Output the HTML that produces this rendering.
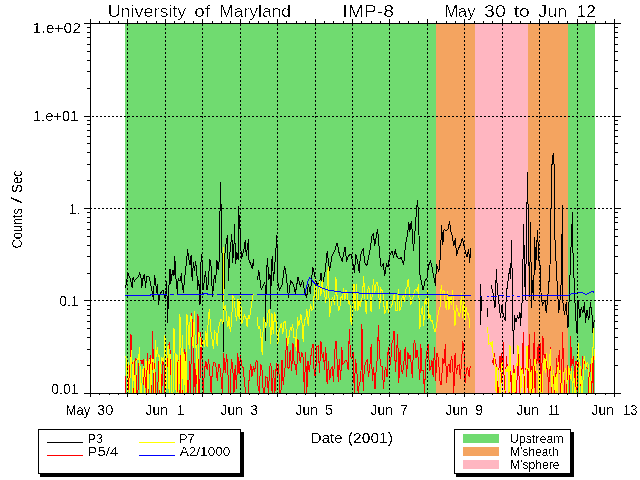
<!DOCTYPE html>
<html lang="en"><head><meta charset="utf-8"><title>University of Maryland IMP-8 May 30 to Jun 12</title>
<style>
html,body{margin:0;padding:0;background:#fff;}
body{width:640px;height:480px;overflow:hidden;}
svg{display:block;}
text{font-family:"Liberation Sans",sans-serif;fill:#000;}
.t{font-size:17.4px;}
.l{font-size:14px;}
.g{font-size:13px;}
</style></head><body>
<svg width="640" height="480" viewBox="0 0 640 480">
<defs><filter id="ct" x="0" y="0" width="640" height="480" filterUnits="userSpaceOnUse" color-interpolation-filters="sRGB"><feColorMatrix type="matrix" values="0 0 0 0 0  0 0 0 0 0  0 0 0 0 0  -0.3333 -0.3333 -0.3333 1 0"/><feComponentTransfer><feFuncA type="discrete" tableValues="0 0 1"/></feComponentTransfer></filter><filter id="cl" x="0" y="0" width="640" height="480" filterUnits="userSpaceOnUse" color-interpolation-filters="sRGB"><feColorMatrix type="matrix" values="0 0 0 0 0  0 0 0 0 0  0 0 0 0 0  -0.3333 -0.3333 -0.3333 1 0"/><feComponentTransfer><feFuncA type="discrete" tableValues="0 0 0 0 0 1 1 1 1"/></feComponentTransfer></filter><filter id="cg" x="0" y="0" width="640" height="480" filterUnits="userSpaceOnUse" color-interpolation-filters="sRGB"><feColorMatrix type="matrix" values="0 0 0 0 0  0 0 0 0 0  0 0 0 0 0  -0.3333 -0.3333 -0.3333 1 0"/><feComponentTransfer><feFuncA type="discrete" tableValues="0 0 0 0 0 1 1 1 1"/></feComponentTransfer></filter><filter id="cr" x="0" y="0" width="640" height="480" filterUnits="userSpaceOnUse" color-interpolation-filters="sRGB"><feColorMatrix type="matrix" values="0 0 0 0 0  0 0 0 0 0  0 0 0 0 0  -0.3333 -0.3333 -0.3333 1 0"/><feComponentTransfer><feFuncA type="discrete" tableValues="0 1"/></feComponentTransfer></filter></defs>
<rect x="0" y="0" width="640" height="480" fill="#fff"/>
<g shape-rendering="crispEdges">
<rect x="125" y="24" width="311" height="369" fill="#70DB70"/>
<rect x="436" y="24" width="39" height="369" fill="#F4A460"/>
<rect x="475" y="24" width="53" height="369" fill="#FFB6C1"/>
<rect x="528" y="24" width="40" height="369" fill="#F4A460"/>
<rect x="568" y="24" width="27" height="369" fill="#70DB70"/>
</g>
<g fill="none" stroke-width="1" stroke-linejoin="miter" shape-rendering="crispEdges">
<g stroke="#000">
<polyline points="125.5,288.0 126.9,280.0 127.8,272.5 129.0,276.0 130.0,278.0 132.2,287.5 133.1,277.5 134.4,281.0 136.2,278.8 138.1,277.0 139.8,273.0 141.0,277.5 141.9,288.0 142.5,280.0 144.4,274.4 145.6,287.5 146.5,277.0 147.8,276.0 149.4,277.5 150.6,283.8 151.9,290.0 153.5,300.0 154.4,275.0 155.6,281.0 156.5,292.5 157.5,284.4 158.5,305.0 159.8,296.0 161.2,292.0 163.1,290.0 164.4,296.0 165.6,298.8 166.5,281.0 167.2,301.0 167.8,322.5 168.1,302.5 169.4,277.5 170.0,268.8 170.6,283.8 171.9,275.0 173.1,270.0 174.0,276.0 174.8,256.0 175.5,273.4 176.5,285.0 177.5,293.8 178.1,278.8 180.0,281.0 181.5,273.0 182.2,286.0 183.5,292.5 184.4,280.0 185.6,270.0 186.9,258.0 187.5,249.0 188.8,259.4 190.0,265.0 191.1,254.7 192.2,281.0 193.4,262.5 194.5,271.0 195.6,261.0 196.9,272.5 197.5,290.0 198.8,280.0 200.0,305.0 201.2,253.8 202.2,263.8 203.1,290.0 204.4,280.0 205.6,271.0 206.9,290.0 208.1,285.0 209.8,258.8 211.2,267.5 212.5,297.0 214.4,275.0 215.6,282.5 216.9,260.0 218.1,270.0 219.4,258.8 220.4,182.0 221.2,210.0 221.5,248.8 222.5,257.5 223.6,352.0 224.2,262.0 225.6,246.0 227.5,235.0 228.5,281.0 229.4,258.8 230.6,246.0 231.9,234.4 232.5,262.5 233.8,252.5 234.5,224.0 235.6,263.8 236.9,252.5 238.1,260.0 238.6,206.0 239.5,226.0 240.6,232.5 241.2,258.8 242.5,255.0 243.8,250.0 245.4,240.0 246.2,256.0 248.5,239.4 249.0,260.0 250.6,263.8 252.2,268.8 253.5,259.4 253.8,266.0"/>
<polyline points="257.5,280.0 258.8,270.0 260.0,280.0 261.2,290.0 263.1,286.0 265.0,282.5 265.6,341.0 266.2,276.0 267.5,258.0 268.8,280.0 270.0,273.8 270.6,309.0 271.3,270.0 272.2,256.0 273.5,280.6 275.2,260.0 276.9,234.7 277.5,280.6 279.4,290.0 282.2,284.4 284.6,265.6 286.5,277.0 288.4,297.5 290.6,280.6 293.4,284.4 295.3,293.8 298.1,277.0 300.4,286.0 302.8,280.6 304.7,292.0 306.6,297.5 308.4,284.4 310.3,293.8 312.8,266.6 315.0,277.0 316.9,284.4 319.7,282.5 321.0,273.0 322.5,284.4 325.3,271.0 327.2,250.6 329.6,271.0 331.9,256.0 334.7,250.6 337.1,242.8 339.4,254.4 342.2,261.0 345.0,246.8 346.6,260.6 348.9,255.2 351.2,254.4 353.6,267.0 354.4,273.0 355.9,254.4 357.5,260.6 359.4,273.0 360.3,256.0 361.9,251.0 363.4,249.0 364.5,262.0 366.9,266.0 368.4,257.5 370.0,250.5 371.9,236.4 373.4,234.0 374.7,245.8 376.2,237.2 377.5,229.4 378.6,240.3 379.7,256.0 381.2,267.0 383.3,263.8 384.8,276.0 386.4,263.8 388.0,267.0 389.5,256.0 391.9,251.0 393.4,256.7 395.3,250.5 396.6,256.0 398.9,259.0 401.2,257.5 403.6,265.3 405.2,248.0 406.2,240.3 407.5,235.6 408.8,222.0 409.8,231.7 411.4,220.6 412.5,235.6 413.4,251.0 414.5,238.8 416.5,210.0 417.5,200.0 418.5,213.8 419.2,243.4 420.0,274.7 421.6,282.5 423.1,290.3 425.0,281.0 427.0,277.8 428.6,265.3 430.6,261.4 431.7,265.3 433.3,274.7 435.6,285.6 436.4,263.8 438.8,271.6 440.3,257.5 441.6,225.0 442.8,244.7 444.1,229.0 445.9,230.6 447.8,229.8 449.6,220.6 450.6,230.6 452.2,235.3 453.8,246.0 455.3,238.4 456.6,255.6 458.4,248.6 460.8,244.0 462.3,237.7 463.9,246.0 465.5,251.7 467.0,257.2 468.6,248.6 469.7,262.7 470.6,247.8"/>
<polyline points="480.5,284.0 480.5,325.0"/>
<polyline points="481.5,296.0 481.5,311.0"/>
<polyline points="487.5,308.0 487.5,317.0"/>
<polyline points="491.2,285.0 493.1,293.8 495.0,308.0 496.4,269.0 497.2,287.5 498.8,302.5 500.6,317.5 501.9,305.0 502.8,312.5 503.8,316.0 505.2,321.0 506.2,297.5 507.1,287.5 508.1,280.0 509.8,268.0 510.6,279.0 511.6,240.0 512.5,300.0 513.4,353.8 514.4,315.0 516.0,322.0 517.5,316.0 518.8,318.8 520.0,312.5 520.6,325.6 521.5,310.0 522.5,296.0 523.5,224.4 524.4,260.0 525.3,300.0 526.0,265.0 527.5,172.0 528.6,240.0 529.5,297.0 530.6,222.0 531.5,307.5 532.5,280.0 533.5,300.0 534.8,237.0 535.5,270.0 536.2,257.0 537.5,230.0 538.8,260.0 540.0,265.0 541.2,297.5 542.5,305.0 545.0,300.0 546.2,312.5 547.5,300.0 548.8,285.0 550.0,265.0 551.4,187.0 552.2,158.0 553.4,153.0 554.5,173.0 555.0,240.0 556.2,265.0 557.5,290.0 558.8,312.5 560.0,300.0 561.2,282.5 562.5,205.0 563.0,302.5 564.5,315.0 566.2,302.5 567.0,315.0 568.0,327.5 569.5,290.0 570.8,252.5 572.5,212.0 573.0,252.5 574.5,290.0 575.5,315.0 577.0,332.5 578.0,300.0 580.0,317.5 581.2,307.5 583.0,312.5 584.5,302.5 585.5,322.5 587.0,310.0 588.8,320.0 590.5,302.5 592.0,315.0 593.0,332.5 594.2,320.0"/>
</g>
<g stroke="#FF0000">
<polyline points="125.5,393.0 126.4,363.1 127.4,367.3 128.3,365.2 129.1,393.0 130.1,362.4 131.0,334.4 132.1,364.7 133.2,393.0 134.1,393.0 135.0,361.4 136.0,358.3 137.0,393.0 137.9,393.0 139.0,363.5 139.9,361.2 141.0,360.3 142.0,364.3 143.1,359.5 144.3,393.0 145.2,361.5 146.2,393.0 147.3,353.1 148.4,393.0 149.5,360.4 150.6,355.4 151.6,393.0 152.7,331.0 153.8,393.0 154.7,362.9 155.7,393.0 156.6,393.0 157.7,393.0 158.6,361.5 159.7,393.0 160.7,367.1 161.8,393.0 162.8,359.2 163.9,360.8 164.8,393.0 165.7,360.9 166.6,361.6 167.5,367.2 168.6,347.3 169.4,341.6 170.5,355.7 171.5,393.0 172.5,393.0 173.4,393.0 174.3,393.0 175.2,393.0 176.1,393.0 177.0,393.0 178.1,360.0 179.1,393.0 180.0,393.0 181.1,352.1 182.1,393.0 183.0,393.0 183.9,359.3 184.8,349.3 185.7,361.0 186.5,368.2 187.6,393.0 188.6,393.0 189.6,361.4 190.7,393.0 191.6,313.2 192.8,329.6 193.8,393.0 194.8,362.8 195.8,393.0 196.8,350.2 198.0,314.4 198.9,393.0 199.8,393.0 200.7,331.8 201.8,353.3 203.2,393.0 204.5,369.5 205.9,361.5 207.2,370.0 208.6,359.3 210.0,376.3 211.1,393.0 212.3,371.2 213.6,362.5 214.9,362.8 216.0,366.9 217.3,380.5 218.7,363.6 219.8,366.4 221.1,377.3 222.3,393.0 223.7,353.4 225.2,372.8 226.6,354.4 227.6,365.8 228.8,393.0 230.1,393.0 231.4,358.6 232.6,364.9 234.0,393.0 235.2,365.1 236.5,388.9 237.8,353.1 239.1,374.3 240.4,355.1 241.8,365.7 243.2,367.6 244.6,383.8 245.8,393.0 247.0,393.0 248.1,393.0 249.5,373.9 250.8,364.2 251.9,376.6 253.3,366.6 254.6,371.9 255.8,362.1 257.0,360.3 258.0,385.7 259.3,393.0 260.5,363.9 261.9,367.9 263.3,393.0 264.5,393.0 265.8,376.8 267.2,377.3 268.4,393.0 269.8,366.5 270.9,363.2 272.1,393.0 273.5,369.7 274.9,393.0 276.3,363.3 277.5,376.5 278.6,363.8 279.8,393.0 280.9,393.0 282.0,359.6 283.2,385.3 284.3,374.4 285.4,365.3 286.7,334.1 287.8,367.3 289.0,368.3 290.2,349.8 291.7,371.1 293.0,343.3 294.2,364.4 295.5,364.6 296.6,375.3 297.9,338.9 299.1,353.6 300.3,362.9 301.7,351.7 303.2,358.2 304.4,393.0 305.6,352.3 306.8,393.0 308.0,360.8 309.2,372.0 310.3,362.6 311.6,349.7 313.0,343.8 314.2,373.3 315.5,377.8 316.9,346.3 318.2,345.8 319.5,373.0 320.9,340.8 322.3,357.7 323.3,352.2 324.5,369.5 325.8,346.7 327.1,384.2 328.5,361.5 329.7,380.4 330.9,369.6 332.1,366.9 333.5,381.5 334.7,352.0 336.0,340.7 337.1,360.5 338.3,382.4 339.3,358.7 340.7,380.3 341.8,346.8 342.9,364.2 344.1,363.2 345.3,360.0 346.7,360.0 348.1,369.9 349.4,329.2 350.5,356.2 351.8,358.3 353.2,352.0 354.3,393.0 355.5,358.7 356.7,367.8 358.1,393.0 359.4,382.6 360.8,381.3 361.9,323.7 363.2,390.7 364.4,366.7 365.8,362.8 367.2,359.5 368.4,376.5 369.8,368.0 371.2,344.0 372.4,381.1 373.7,367.5 375.0,389.3 376.1,370.0 377.3,358.6 378.4,325.5 379.6,354.8 380.7,365.8 382.1,366.3 383.6,388.8 384.7,371.0 385.8,367.4 387.0,377.4 388.2,346.9 389.4,358.6 390.6,365.0 391.7,343.2 392.8,342.2 394.0,330.6 395.4,371.8 396.5,354.0 397.7,334.2 398.8,382.8 400.1,350.2 401.3,369.9 402.6,374.0 403.9,362.3 405.2,346.7 406.6,377.4 407.8,352.0 408.9,359.0 410.0,355.0 411.3,363.9 412.3,378.4 413.6,344.4 414.8,339.7 416.0,357.9 417.0,350.3 418.4,360.1 419.8,380.3 420.8,343.7 422.0,370.4 423.3,370.6 424.5,393.0 425.7,361.7 427.1,350.2 428.2,344.3 429.6,370.6 430.8,368.1 431.9,359.8 433.1,376.7 434.6,346.9 435.7,380.8 436.8,352.6 438.0,357.1 439.1,367.9 440.3,385.0 441.4,384.8 442.8,357.8 444.0,363.5 445.4,343.9 446.5,383.2 447.9,365.9 449.0,363.7 450.1,372.5 451.3,356.2 452.6,361.2 453.8,393.0 455.1,352.9 456.4,373.7 457.6,366.0 459.1,364.7 460.3,378.8 461.4,363.5 462.8,341.4 464.0,351.1 465.1,383.3 466.4,369.4 467.7,367.9 469.1,377.0 470.2,366.2"/>
<polyline points="492.5,359.7 493.4,364.7 494.5,352.7 495.4,363.1 496.4,364.9 497.5,393.0 498.4,393.0 499.3,355.9 500.2,371.6 501.2,353.2 502.3,393.0 503.3,342.3 504.4,393.0 505.4,393.0 506.3,355.7 507.4,367.8 508.5,367.7 509.6,393.0 510.7,364.6 511.6,393.0 512.5,393.0 513.6,364.8 514.4,373.2 515.5,393.0 516.4,393.0 517.5,369.3 518.5,353.7 519.4,393.0 520.4,368.5 521.4,370.5 522.4,367.2 523.3,331.6 524.3,393.0 525.4,393.0 526.2,360.3 527.3,370.5 528.2,393.0 529.2,334.3 530.1,361.5 531.1,393.0 532.0,365.8 533.2,393.0 534.2,331.6 535.1,393.0 536.2,358.8 537.1,361.1 538.2,343.6 539.1,364.5 540.1,343.3 541.0,393.0 541.9,366.9 542.9,336.1 543.7,348.2 544.6,366.2 545.6,354.2 546.6,369.0 547.6,366.2 548.6,393.0 549.6,365.3 550.5,346.8 551.5,393.0 552.5,393.0 553.4,370.7 554.4,393.0 555.4,393.0 556.5,358.0 557.4,369.8 558.3,366.0 559.4,349.6 560.5,393.0 561.7,374.4 562.6,331.6 563.5,366.2 564.5,393.0 565.7,393.0 566.7,393.0 567.7,364.7 568.7,367.7 569.6,393.0 570.7,336.4 571.6,366.3 572.6,361.8 573.7,355.9 574.8,393.0 576.0,361.0 577.1,393.0 578.2,361.7 579.3,368.7 580.2,367.3 581.3,393.0 582.4,355.7 583.4,368.8 584.3,360.1 585.3,366.0 586.2,367.7 587.1,368.0 588.0,368.6 589.0,393.0 590.0,371.9 590.9,364.1 591.8,393.0 592.8,346.7 593.8,393.0"/>
</g>
<g stroke="#FFFF00">
<polyline points="125.5,355.6 126.5,359.4 127.5,393.0 128.5,362.2 129.5,393.0 130.6,361.2 131.7,350.4 132.7,393.0 133.6,360.2 134.5,393.0 135.4,393.0 136.4,363.3 137.4,358.3 138.5,359.4 139.6,347.3 140.6,393.0 141.5,393.0 142.6,371.3 143.7,366.5 144.5,393.0 145.6,359.3 146.8,364.5 147.9,393.0 148.7,362.5 149.9,359.1 150.8,393.0 151.7,358.1 152.7,362.2 153.6,358.8 154.6,393.0 155.5,339.7 156.4,357.2 157.4,347.0 158.3,357.0 159.2,354.9 160.1,393.0 161.0,364.3 161.9,357.2 163.1,361.6 164.1,356.3 165.0,335.5 165.9,393.0 167.0,355.3 168.1,345.0 169.1,393.0 170.0,353.7 171.0,359.2 172.0,393.0 173.0,393.0 174.0,328.2 175.0,352.8 176.1,393.0 177.0,354.9 177.9,356.1 178.9,393.0 179.9,314.5 180.9,341.1 181.8,393.0 182.7,335.2 183.8,393.0 184.8,353.7 186.0,393.0 187.0,314.5 188.1,325.7 189.2,348.9 190.2,315.9 191.2,316.1 192.2,341.4 193.3,347.7 194.3,311.2 195.4,347.6 196.4,345.8 197.4,393.0 198.5,333.0 199.6,333.3 201.0,347.0 202.1,345.0 203.2,339.9 204.5,346.7 205.8,330.6 207.1,347.4 208.3,317.9 209.4,309.2 210.8,330.9 212.2,340.4 213.4,348.5 214.6,331.2 216.0,332.9 217.2,345.5 218.3,329.2 219.6,323.8 220.7,319.6 221.8,319.8 222.9,323.8 224.1,309.4 225.5,304.8 226.7,318.6 227.9,327.2 229.0,316.4 230.3,332.4 231.6,322.4 232.7,295.4 234.1,298.5 235.5,313.5 236.7,321.2 238.0,299.2 239.1,318.5 240.4,293.3 241.8,323.8 243.2,318.9 244.6,314.9 245.8,317.1 247.2,326.9 248.3,315.7 249.4,318.0 250.5,311.9 251.8,302.8 253.1,294.0"/>
<polyline points="257.0,316.7 258.3,328.1 259.6,326.5 260.8,334.3 262.2,355.1 263.5,318.3 264.6,319.7 265.7,326.5 266.9,324.4 268.2,311.3 269.3,309.9 270.7,343.5 271.9,312.8 273.3,333.7 274.5,313.3 275.6,315.4 276.7,331.6 277.9,343.7 279.2,330.1 280.4,326.4 281.5,322.9 282.8,334.4 283.9,322.3 285.1,321.6 286.4,332.6 287.8,345.7 289.0,336.6 290.4,328.1 291.5,330.0 292.6,324.1 293.9,337.4 295.2,337.5 296.3,350.8 297.4,317.1 298.8,325.9 299.8,321.8 300.9,314.3 302.0,323.1 303.2,341.6 304.3,319.9 305.7,319.3 306.9,309.0 308.2,326.1 309.5,312.0 310.8,304.5 311.9,310.1 313.0,309.6 314.4,291.5 315.6,278.7 316.9,299.0 318.3,300.1 319.5,281.1 320.9,295.7 322.2,279.6 323.2,291.2 324.4,291.7 325.7,302.9 326.9,288.4 328.2,266.9 329.5,316.8 330.9,306.6 332.2,297.7 333.4,299.4 334.5,304.7 335.9,277.0 337.2,298.6 338.5,310.8 339.8,307.4 341.2,295.7 342.5,299.6 343.6,288.3 344.9,300.0 346.0,289.8 347.4,294.9 348.4,303.1 349.8,301.1 351.2,325.4 352.6,311.6 354.0,283.9 355.1,310.6 356.6,284.1 357.9,310.6 359.0,300.1 360.1,306.5 361.2,300.5 362.4,297.0 363.6,276.5 365.0,299.4 366.2,314.1 367.5,290.9 368.6,287.4 369.9,290.7 371.1,312.0 372.5,289.2 373.6,279.5 374.7,293.8 375.7,284.6 377.0,282.3 378.3,286.5 379.7,308.5 380.8,288.3 381.9,290.2 383.1,293.7 384.5,313.3 385.8,312.5 387.0,299.7 388.4,312.8 389.6,308.2 390.8,307.3 392.1,304.2 393.3,298.5 394.4,293.8 395.7,310.7 397.0,311.0 398.4,289.1 399.6,310.5 400.8,308.9 402.0,298.0 403.2,295.9 404.5,302.0 405.7,289.4 407.1,286.7 408.3,278.6 409.5,292.4 410.8,304.6 412.2,298.2 413.3,296.3 414.6,290.5 415.9,289.5 417.3,290.9 418.6,283.8 419.9,328.8 421.2,312.2 422.4,305.9 423.7,325.7 425.1,299.0 426.4,305.4 427.7,290.4 428.8,318.6 429.9,314.1 431.1,321.1 432.3,320.8 433.6,326.9 434.8,332.3 436.2,326.9 437.4,319.2 438.7,310.1 439.9,309.1 441.2,285.3 442.5,293.7 443.9,290.0 445.3,303.6 446.4,310.2 447.6,291.0 448.9,310.1 450.0,297.3 451.3,304.6 452.6,289.7 453.7,304.3 455.0,325.8 456.4,305.2 457.7,311.3 459.1,316.2 460.3,312.4 461.4,292.7 462.7,317.7 463.8,294.8 464.9,321.0 466.1,307.5 467.4,314.1 468.6,313.3 470.0,328.4"/>
<polyline points="487.5,327.5 488.9,344.0 490.2,342.5 491.4,345.6 492.2,340.7 493.1,353.9 494.1,357.2 495.1,367.1 496.1,393.0 497.0,367.0 498.2,370.6 499.3,393.0 500.1,393.0 501.2,369.1 502.2,362.1 503.0,393.0 503.9,393.0 504.9,393.0 506.0,368.6 507.0,371.8 508.0,365.7 509.0,393.0 510.0,345.3 511.0,370.9 512.0,371.0 513.0,393.0 514.0,372.8 515.0,393.0 516.1,363.5 517.1,366.1 518.0,345.5 519.0,353.5 519.9,361.7 520.8,393.0 521.7,370.8 522.8,369.1 523.8,393.0 525.0,393.0 526.1,368.2 527.0,345.8 528.1,370.4 529.0,368.4 530.1,393.0 531.1,369.8 532.2,393.0 533.0,393.0 534.2,361.2 535.1,358.6 536.1,372.2 537.0,371.5 537.9,370.4 538.9,393.0 539.9,371.3 540.9,393.0 542.0,393.0 543.1,369.1 544.2,358.0 545.2,372.8 546.4,353.0 547.4,366.3 548.4,369.7 549.4,368.5 550.2,349.3 551.3,372.4 552.3,393.0 553.2,369.9 554.2,376.8 555.2,393.0 556.2,374.0 557.1,393.0 558.2,361.6 559.3,373.3 560.4,370.6 561.5,393.0 562.6,393.0 563.6,372.7 564.5,372.2 565.6,367.7 566.6,373.7 567.5,393.0 568.6,365.8 569.7,372.9 570.6,378.5 571.5,368.5 572.5,393.0 573.7,370.7 574.7,393.0 575.8,393.0 576.7,368.0 577.8,358.0 578.7,343.0 579.7,393.0 580.6,366.1 581.7,393.0 582.6,393.0 583.6,361.7 584.7,356.0 585.6,369.6 586.5,364.0 587.7,362.4 588.7,367.7 589.6,393.0 590.7,393.0 591.6,358.5 592.6,362.6 593.5,327.7 594.3,360.4"/>
<polyline points="223.5,247.0 223.5,309.0"/>
</g>
<g stroke="#0000FF">
<polyline points="125.0,295.5 150.0,295.5 151.0,294.5 167.0,294.5"/>
<polyline points="170.0,294.5 174.0,294.5"/>
<polyline points="177.0,294.5 203.0,294.5 204.0,293.5 207.0,293.5 208.0,294.5 214.0,294.5"/>
<polyline points="217.0,294.5 224.0,294.5"/>
<polyline points="228.0,294.5 253.0,294.5"/>
<polyline points="257.0,294.5 304.5,294.5 306.0,289.0 308.0,281.0 309.8,277.5 311.0,279.0 313.0,281.5 317.0,285.5 322.0,288.0 330.0,290.5 345.0,292.5 380.0,293.8 440.0,294.5 455.0,295.5 470.5,295.5"/>
<polyline points="480.0,296.5 481.0,296.5"/>
<polyline points="487.0,296.5 489.0,296.5"/>
<polyline points="491.0,296.5 497.0,296.5"/>
<polyline points="499.0,295.5 504.0,295.5"/>
<polyline points="506.0,296.5 510.0,296.5"/>
<polyline points="512.0,295.5 514.0,295.5"/>
<polyline points="517.0,296.5 520.0,296.5"/>
<polyline points="522.0,295.5 560.0,295.5 568.0,295.5 572.5,293.5 582.5,292.5 585.6,294.5 588.0,293.5 592.5,291.5 594.5,292.5"/>
</g>
</g>
<g stroke="#000" stroke-width="1" fill="none" shape-rendering="crispEdges" stroke-dasharray="2 2">
<line x1="127.5" y1="24" x2="127.5" y2="393"/>
<line x1="165.5" y1="24" x2="165.5" y2="393"/>
<line x1="202.5" y1="24" x2="202.5" y2="393"/>
<line x1="240.5" y1="24" x2="240.5" y2="393"/>
<line x1="277.5" y1="24" x2="277.5" y2="393"/>
<line x1="315.5" y1="24" x2="315.5" y2="393"/>
<line x1="352.5" y1="24" x2="352.5" y2="393"/>
<line x1="389.5" y1="24" x2="389.5" y2="393"/>
<line x1="427.5" y1="24" x2="427.5" y2="393"/>
<line x1="464.5" y1="24" x2="464.5" y2="393"/>
<line x1="502.5" y1="24" x2="502.5" y2="393"/>
<line x1="539.5" y1="24" x2="539.5" y2="393"/>
<line x1="577.5" y1="24" x2="577.5" y2="393"/>
<line x1="92" y1="116.5" x2="614" y2="116.5"/>
<line x1="90" y1="208.5" x2="614" y2="208.5"/>
<line x1="90" y1="300.5" x2="614" y2="300.5"/>
</g>
<g stroke="#000" stroke-width="1" fill="none" shape-rendering="crispEdges">
<rect x="90.5" y="23.5" width="524" height="370"/>
<path d="M90.5 19 V23 M90.5 394 V397 M99.5 21 V23 M99.5 394 V395 M109.5 21 V23 M109.5 394 V395 M118.5 21 V23 M118.5 394 V395 M127.5 19 V23 M127.5 394 V397 M137.5 21 V23 M137.5 394 V395 M146.5 21 V23 M146.5 394 V395 M156.5 21 V23 M156.5 394 V395 M165.5 19 V23 M165.5 394 V397 M174.5 21 V23 M174.5 394 V395 M184.5 21 V23 M184.5 394 V395 M193.5 21 V23 M193.5 394 V395 M202.5 19 V23 M202.5 394 V397 M212.5 21 V23 M212.5 394 V395 M221.5 21 V23 M221.5 394 V395 M230.5 21 V23 M230.5 394 V395 M240.5 19 V23 M240.5 394 V397 M249.5 21 V23 M249.5 394 V395 M258.5 21 V23 M258.5 394 V395 M268.5 21 V23 M268.5 394 V395 M277.5 19 V23 M277.5 394 V397 M286.5 21 V23 M286.5 394 V395 M296.5 21 V23 M296.5 394 V395 M305.5 21 V23 M305.5 394 V395 M315.5 19 V23 M315.5 394 V397 M324.5 21 V23 M324.5 394 V395 M333.5 21 V23 M333.5 394 V395 M343.5 21 V23 M343.5 394 V395 M352.5 19 V23 M352.5 394 V397 M361.5 21 V23 M361.5 394 V395 M371.5 21 V23 M371.5 394 V395 M380.5 21 V23 M380.5 394 V395 M389.5 19 V23 M389.5 394 V397 M399.5 21 V23 M399.5 394 V395 M408.5 21 V23 M408.5 394 V395 M418.5 21 V23 M418.5 394 V395 M427.5 19 V23 M427.5 394 V397 M436.5 21 V23 M436.5 394 V395 M446.5 21 V23 M446.5 394 V395 M455.5 21 V23 M455.5 394 V395 M464.5 19 V23 M464.5 394 V397 M474.5 21 V23 M474.5 394 V395 M483.5 21 V23 M483.5 394 V395 M492.5 21 V23 M492.5 394 V395 M502.5 19 V23 M502.5 394 V397 M511.5 21 V23 M511.5 394 V395 M520.5 21 V23 M520.5 394 V395 M530.5 21 V23 M530.5 394 V395 M539.5 19 V23 M539.5 394 V397 M548.5 21 V23 M548.5 394 V395 M558.5 21 V23 M558.5 394 V395 M567.5 21 V23 M567.5 394 V395 M577.5 19 V23 M577.5 394 V397 M586.5 21 V23 M586.5 394 V395 M595.5 21 V23 M595.5 394 V395 M605.5 21 V23 M605.5 394 V395 M614.5 19 V23 M614.5 394 V397 M84 23.5 H90 M615 23.5 H621 M87 88.5 H90 M615 88.5 H618 M87 71.5 H90 M615 71.5 H618 M87 60.5 H90 M615 60.5 H618 M87 51.5 H90 M615 51.5 H618 M87 44.5 H90 M615 44.5 H618 M87 37.5 H90 M615 37.5 H618 M87 32.5 H90 M615 32.5 H618 M87 27.5 H90 M615 27.5 H618 M84 116.5 H90 M615 116.5 H621 M87 180.5 H90 M615 180.5 H618 M87 164.5 H90 M615 164.5 H618 M87 152.5 H90 M615 152.5 H618 M87 143.5 H90 M615 143.5 H618 M87 136.5 H90 M615 136.5 H618 M87 130.5 H90 M615 130.5 H618 M87 124.5 H90 M615 124.5 H618 M87 120.5 H90 M615 120.5 H618 M84 208.5 H90 M615 208.5 H621 M87 273.5 H90 M615 273.5 H618 M87 256.5 H90 M615 256.5 H618 M87 245.5 H90 M615 245.5 H618 M87 236.5 H90 M615 236.5 H618 M87 229.5 H90 M615 229.5 H618 M87 222.5 H90 M615 222.5 H618 M87 217.5 H90 M615 217.5 H618 M87 212.5 H90 M615 212.5 H618 M84 300.5 H90 M615 300.5 H621 M87 365.5 H90 M615 365.5 H618 M87 349.5 H90 M615 349.5 H618 M87 337.5 H90 M615 337.5 H618 M87 328.5 H90 M615 328.5 H618 M87 321.5 H90 M615 321.5 H618 M87 315.5 H90 M615 315.5 H618 M87 309.5 H90 M615 309.5 H618 M87 305.5 H90 M615 305.5 H618 M84 393.5 H90 M615 393.5 H621"/>
</g>
<g shape-rendering="crispEdges">
<rect x="40" y="432" width="204" height="45" fill="#000"/>
<rect x="38.5" y="429.5" width="202" height="44" fill="#fff" stroke="#000" stroke-width="1"/>
</g>
<g stroke-width="1" shape-rendering="crispEdges">
<line x1="47" y1="442.5" x2="83" y2="442.5" stroke="#000"/>
<line x1="47" y1="455.5" x2="83" y2="455.5" stroke="#FF0000"/>
<line x1="139" y1="442.5" x2="175" y2="442.5" stroke="#FFFF00"/>
<line x1="139" y1="455.5" x2="175" y2="455.5" stroke="#0000FF"/>
</g>
<g shape-rendering="crispEdges">
<rect x="456" y="432" width="118" height="45" fill="#000"/>
<rect x="454.5" y="429.5" width="116" height="44" fill="#fff" stroke="#000" stroke-width="1"/>
</g>
<g shape-rendering="crispEdges">
<rect x="463" y="434" width="36" height="9" fill="#70DB70"/>
<rect x="463" y="447" width="36" height="9" fill="#F4A460"/>
<rect x="463" y="460" width="36" height="9" fill="#FFB6C1"/>
</g>
<g filter="url(#ct)">
<text id="t0" class="t" x="107.66" y="17.0" textLength="78.65" lengthAdjust="spacingAndGlyphs">University</text>
<text id="t1" class="t" x="194.16" y="17.0" textLength="15.78" lengthAdjust="spacingAndGlyphs">of</text>
<text id="t2" class="t" x="219.38" y="17.0" textLength="71.56" lengthAdjust="spacingAndGlyphs">Maryland</text>
<text id="t3" class="t" x="342.28" y="17.0" textLength="51.70" lengthAdjust="spacingAndGlyphs">IMP-8</text>
<text id="t4" class="t" x="444.55" y="17.0" textLength="30.71" lengthAdjust="spacingAndGlyphs">May</text>
<text id="t5" class="t" x="483.94" y="17.0" textLength="21.95" lengthAdjust="spacingAndGlyphs">30</text>
<text id="t6" class="t" x="513.67" y="17.0" textLength="15.98" lengthAdjust="spacingAndGlyphs">to</text>
<text id="t7" class="t" x="538.35" y="17.0" textLength="28.78" lengthAdjust="spacingAndGlyphs">Jun</text>
<text id="t8" class="t" x="576.67" y="17.0" textLength="19.26" lengthAdjust="spacingAndGlyphs">12</text>
</g>
<g filter="url(#cl)">
<text id="t9" class="l" x="32.57" y="33.0" textLength="48.36" lengthAdjust="spacingAndGlyphs">1.e+02</text>
<text id="t10" class="l" x="32.91" y="121.0" textLength="45.56" lengthAdjust="spacingAndGlyphs">1.e+01</text>
<text id="t11" class="l" x="69.10" y="214.0" textLength="11.05" lengthAdjust="spacingAndGlyphs">1.</text>
<text id="t12" class="l" x="59.22" y="306.0" textLength="19.32" lengthAdjust="spacingAndGlyphs">0.1</text>
<text id="t13" class="l" x="51.20" y="394.0" textLength="27.31" lengthAdjust="spacingAndGlyphs">0.01</text>
<text id="t14" class="l" x="310.89" y="443.0" textLength="31.70" lengthAdjust="spacingAndGlyphs">Date</text>
<text id="t15" class="l" x="347.86" y="443.0" textLength="45.05" lengthAdjust="spacingAndGlyphs">(2001)</text>
<text id="t16" class="l" x="65.79" y="415.0" textLength="24.35" lengthAdjust="spacingAndGlyphs">May</text>
<text id="t17" class="l" x="97.14" y="415.0" textLength="16.34" lengthAdjust="spacingAndGlyphs">30</text>
<text id="t18" class="l" x="145.56" y="415.0" textLength="22.36" lengthAdjust="spacingAndGlyphs">Jun</text>
<text id="t19" class="l" x="176.73" y="415.0">1</text>
<text id="t20" class="l" x="220.56" y="415.0" textLength="22.36" lengthAdjust="spacingAndGlyphs">Jun</text>
<text id="t21" class="l" x="250.13" y="415.0">3</text>
<text id="t22" class="l" x="295.56" y="415.0" textLength="22.36" lengthAdjust="spacingAndGlyphs">Jun</text>
<text id="t23" class="l" x="324.92" y="415.0">5</text>
<text id="t24" class="l" x="370.56" y="415.0" textLength="22.36" lengthAdjust="spacingAndGlyphs">Jun</text>
<text id="t25" class="l" x="400.09" y="415.0">7</text>
<text id="t26" class="l" x="445.56" y="415.0" textLength="22.36" lengthAdjust="spacingAndGlyphs">Jun</text>
<text id="t27" class="l" x="475.26" y="415.0">9</text>
<text id="t28" class="l" x="516.56" y="415.0" textLength="22.36" lengthAdjust="spacingAndGlyphs">Jun</text>
<text id="t29" class="l" x="548.14" y="415.0" textLength="11.30" lengthAdjust="spacingAndGlyphs">11</text>
<text id="t30" class="l" x="591.56" y="415.0" textLength="22.36" lengthAdjust="spacingAndGlyphs">Jun</text>
<text id="t31" class="l" x="623.12" y="415.0" textLength="14.51" lengthAdjust="spacingAndGlyphs">13</text>
</g>
<g filter="url(#cr)">
<text class="l" transform="translate(22,248) rotate(-90)"><tspan x="-0.5" textLength="40.5" lengthAdjust="spacingAndGlyphs">Counts</tspan><tspan x="44.5" textLength="6.5" lengthAdjust="spacingAndGlyphs">/</tspan><tspan x="55" textLength="23" lengthAdjust="spacingAndGlyphs">Sec</tspan></text>
</g>
<g filter="url(#cg)">
<text id="t32" class="g" x="87.79" y="443.0" textLength="14.93" lengthAdjust="spacingAndGlyphs">P3</text>
<text id="t33" class="g" x="87.64" y="456.0" textLength="30.64" lengthAdjust="spacingAndGlyphs">P5/4</text>
<text id="t34" class="g" x="178.88" y="443.0" textLength="15.66" lengthAdjust="spacingAndGlyphs">P7</text>
<text id="t35" class="g" x="179.67" y="456.0" textLength="50.77" lengthAdjust="spacingAndGlyphs">A2/1000</text>
<text id="t36" class="g" x="509.85" y="443.0" textLength="53.79" lengthAdjust="spacingAndGlyphs">Upstream</text>
<text id="t37" class="g" x="510.02" y="456.0" textLength="48.59" lengthAdjust="spacingAndGlyphs">M'sheath</text>
<text id="t38" class="g" x="510.02" y="469.0" textLength="49.51" lengthAdjust="spacingAndGlyphs">M'sphere</text>
</g>
</svg></body></html>
